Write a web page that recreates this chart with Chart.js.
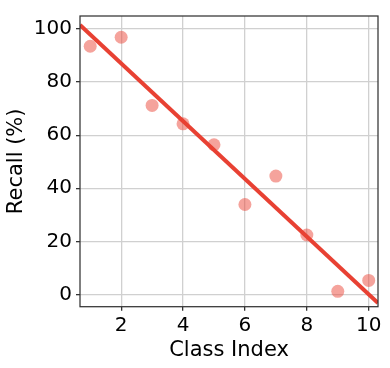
<!DOCTYPE html>
<html>
<head>
<meta charset="utf-8">
<script src="https://cdn.jsdelivr.net/npm/chart.js@4/dist/chart.umd.min.js"></script>
<style>
  html, body { margin: 0; padding: 0; background: #fff; }
  #wrap { width: 390px; height: 368px; }
</style>
</head>
<body>
<div id="wrap"><canvas id="recallChart" width="390" height="368"></canvas></div>
<script>
// class index vs recall
var classIndex = [1, 2, 3, 4, 5, 6, 7, 8, 9, 10];
var recallValues = [93.5, 96.9, 71.2, 64.3, 56.4, 33.9, 44.6, 22.4, 1.2, 5.3];

// fitted trend line, ends read at the plot edges
var fitX = [0.67, 10.3];
var fitY = [101.5, -3.2];

var xTicks = [2, 4, 6, 8, 10];
var yTicks = [0, 20, 40, 60, 80, 100];

var fontFamily = '"DejaVu Sans", sans-serif';
var gridColor = '#d0d0d0';
var axisColor = '#333333';

// draw the box round the plot (top and right sides too)
var frameBox = {
    id: 'frameBox',
    afterDatasetsDraw: function(chart) {
        var a = chart.chartArea;
        var ctx = chart.ctx;
        ctx.save();
        ctx.strokeStyle = axisColor;
        ctx.lineWidth = 1.25;
        ctx.strokeRect(a.left, a.top, a.right - a.left, a.bottom - a.top);
        ctx.restore();
    }
};

var pointData = classIndex.map(function(x, i) { return { x: x, y: recallValues[i] }; });
var lineData = fitX.map(function(x, i) { return { x: x, y: fitY[i] }; });

var ctx = document.getElementById('recallChart').getContext('2d');
new Chart(ctx, {
    type: 'scatter',
    data: {
        datasets: [{
            label: 'fit',
            data: lineData,
            showLine: true,
            borderColor: '#e84133',
            borderWidth: 4,
            pointRadius: 0,
            order: 0
        }, {
            label: 'recall',
            data: pointData,
            backgroundColor: 'rgba(236, 72, 58, 0.5)',
            borderWidth: 0,
            pointRadius: 6.5,
            order: 1
        }]
    },
    options: {
        responsive: false,
        animation: false,
        layout: { padding: { left: 0, top: 11, right: 12, bottom: 0 } },
        plugins: { legend: { display: false }, tooltip: { enabled: false } },
        scales: {
            x: {
                type: 'linear',
                min: fitX[0],
                max: fitX[1],
                afterBuildTicks: function(scale) {
                    scale.ticks = xTicks.map(function(v) { return { value: v }; });
                },
                afterFit: function(scale) { scale.height = 61.3; },
                grid: { color: gridColor, lineWidth: 1.3, tickColor: axisColor, tickLength: 4 },
                border: { display: false },
                ticks: { color: '#000', font: { family: fontFamily, size: 20 }, padding: 3, maxRotation: 0 },
                title: { display: true, text: 'Class Index', color: '#000', font: { family: fontFamily, size: 21 }, padding: { top: 0, bottom: 5 } }
            },
            y: {
                type: 'linear',
                min: -4.6,
                max: 104.9,
                afterBuildTicks: function(scale) {
                    scale.ticks = yTicks.map(function(v) { return { value: v }; });
                },
                afterFit: function(scale) { scale.width = 80; },
                grid: { color: gridColor, lineWidth: 1.3, tickColor: axisColor, tickLength: 4 },
                border: { display: false },
                ticks: { color: '#000', font: { family: fontFamily, size: 20 }, padding: 4 },
                title: { display: true, text: 'Recall (%)', color: '#000', font: { family: fontFamily, size: 21 }, padding: { top: 4, bottom: 0 } }
            }
        }
    },
    plugins: [frameBox]
});
</script>
</body>
</html>
